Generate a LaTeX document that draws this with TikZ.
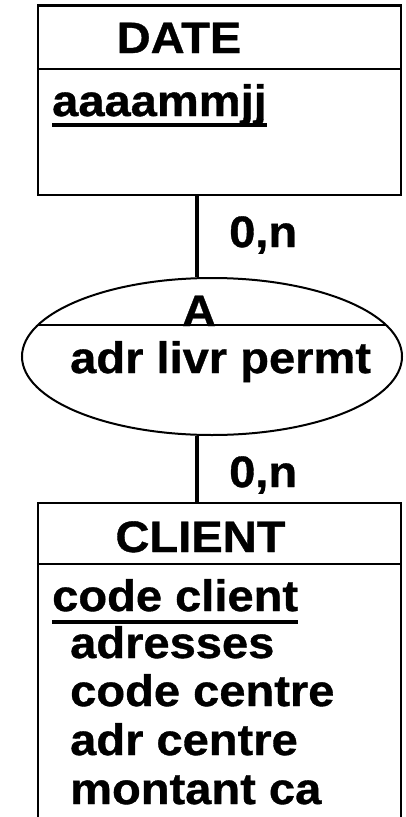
\documentclass[tikz,border=0pt]{standalone}
\usepackage{fontspec}
\setmainfont{Liberation Sans}
\newfontfamily\labelfont[FakeStretch=1.07, FakeBold=0.8]{Liberation Sans}
\usetikzlibrary{shapes.geometric}

\tikzset{
  ent/.style={draw, line width=2.5pt, inner sep=0pt},
  sep/.style={line width=2pt},
  link/.style={line width=4.5pt},
  txt/.style={inner sep=0pt, text height=31pt, text depth=0pt,
              font=\labelfont\fontsize{44}{44}\selectfont\bfseries},
  keyline/.style={line width=4pt},
  relation/.style={ellipse, draw, line width=2pt, inner sep=0pt}
}

\begin{document}
\begin{tikzpicture}[x=1pt, y=-1pt]
  % page frame
  \clip (0,0) rectangle (405,817);
  \useasboundingbox (0,0) rectangle (405,817);

  % entity DATE
  \node[ent, minimum width=363pt, minimum height=189.5pt] (dateBox) at (219.5,100.25) {};
  \draw[sep] (dateBox.west |- 0,69) -- (dateBox.east |- 0,69);
  \node[txt, anchor=base] (dateName) at (179,53) {DATE};
  \node[txt, anchor=base west] (dateKey) at (52,116) {aaaammjj};
  \draw[keyline] ([yshift=-9pt]dateKey.base west) -- ([yshift=-9pt]dateKey.base east);

  % association A
  \node[relation, minimum width=380pt, minimum height=157pt] (assoc) at (212,356.5) {};
  \begin{scope}
    \clip (212,356.5) ellipse [x radius=190, y radius=78.5];
    \draw[sep] (assoc.west |- 0,325) -- (assoc.east |- 0,325);
  \end{scope}
  \node[txt, anchor=base] (assocName) at (199,326) {A};
  \node[txt, anchor=base west] (assocAttr) at (70,373) {adr livr permt};

  % entity CLIENT (continues below the frame)
  \node[ent, minimum width=363pt, minimum height=330pt] (clientBox) at (219.5,668) {};
  \draw[sep] (clientBox.west |- 0,564) -- (clientBox.east |- 0,564);
  \node[txt, anchor=base] (clientName) at (200.5,552) {CLIENT};
  \node[txt, anchor=base west] (clientKey) at (52,611) {code client};
  \draw[keyline] ([yshift=-11pt]clientKey.base west) -- ([yshift=-11pt]clientKey.base east);
  \node[txt, anchor=base west] (attrA) at (70,658) {adresses};
  \node[txt, anchor=base west] (attrB) at (70,706) {code centre};
  \node[txt, anchor=base west] (attrC) at (70,755) {adr centre};
  \node[txt, anchor=base west] (attrD) at (70,804) {montant ca};

  % links and cardinalities
  \coordinate (lnk) at (197,0);
  \draw[link] (dateBox.south -| lnk) -- (assoc.north -| lnk);
  \draw[link] (assoc.south -| lnk) -- (clientBox.north -| lnk);
  \node[txt, anchor=base west] (cardTop) at (229,247) {0,n};
  \node[txt, anchor=base west] (cardBottom) at (229,487) {0,n};
\end{tikzpicture}
\end{document}
